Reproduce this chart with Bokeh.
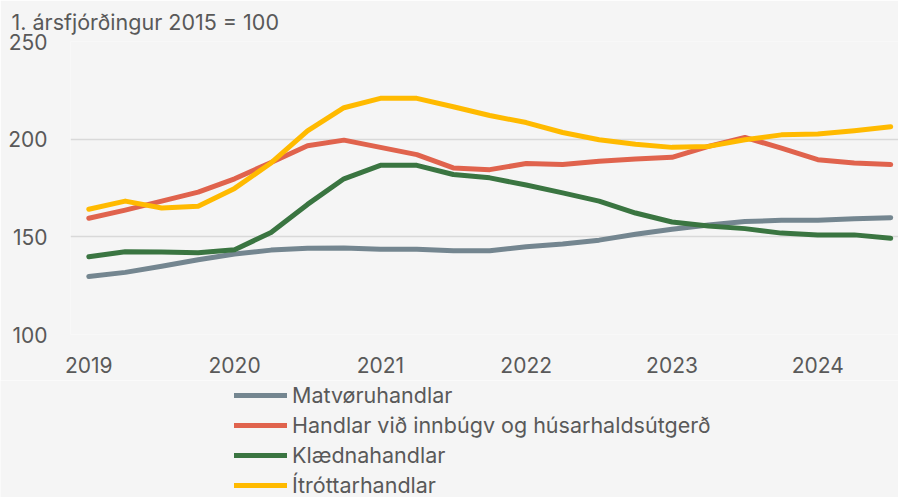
from bokeh.plotting import figure
from bokeh.models import FixedTicker, Legend, LegendItem, Range1d
from bokeh.layouts import column
from bokeh.embed import file_html
from bokeh.resources import INLINE

# Quarterly index, 1. ársfjórðingur 2015 = 100 (2019 Q1 .. 2024 Q3)
quarters = list(range(23))
year_ticks = [0, 4, 8, 12, 16, 20]
year_labels = ["2019", "2020", "2021", "2022", "2023", "2024"]

matvoru = [129.7, 131.8, 134.9, 138.3, 141.2, 143.2, 144.1, 144.3, 143.7, 143.6, 142.9, 142.9,
           144.9, 146.3, 148.3, 151.3, 153.9, 156.1, 157.8, 158.5, 158.5, 159.2, 159.8]
innbugv = [159.5, 163.7, 168.3, 172.9, 179.7, 188.1, 196.6, 199.5, 195.8, 192.1, 185.3, 184.4,
           187.5, 187.0, 188.7, 189.8, 190.7, 196.3, 200.9, 195.4, 189.5, 187.8, 187.0]
klaedna = [139.8, 142.4, 142.2, 141.9, 143.4, 152.2, 166.6, 179.7, 186.6, 186.6, 181.9, 180.2,
           176.5, 172.5, 168.3, 162.2, 157.6, 155.6, 154.2, 151.9, 151.0, 151.0, 149.3]
itrottar = [164.1, 168.3, 164.8, 165.6, 174.8, 187.8, 204.3, 216.1, 220.9, 220.9, 216.6, 212.1,
            208.5, 203.4, 199.7, 197.4, 195.8, 196.3, 199.7, 202.2, 202.7, 204.3, 206.3]

series_names = ["Matvøruhandlar", "Handlar við innbúgv og húsarhaldsútgerð",
                "Klædnahandlar", "Ítróttarhandlar"]
series_values = [matvoru, innbugv, klaedna, itrottar]
series_colors = ["#748690", "#E0634D", "#3A7541", "#FFBA00"]

title_text = "1. ársfjórðingur 2015 = 100"
y_ticks = [100, 150, 200, 250]

FONT = "Inter"
TXT = "#595959"
BG = "#F5F5F5"

# ---- main chart ----
p = figure(width=898, height=380, output_backend="svg", toolbar_location=None,
           x_range=Range1d(-0.502, 22.214), y_range=Range1d(100, 250),
           min_border_left=70, min_border_right=0, min_border_top=39, min_border_bottom=46)
p.background_fill_color = BG
p.border_fill_color = BG
p.outline_line_color = None
p.frame_align = False

for vals, col in zip(series_values, series_colors):
    p.line(quarters, vals, line_color=col, line_width=5, line_cap="round", line_join="round")

p.xgrid.grid_line_color = None
p.ygrid.grid_line_color = "#D9D9D9"
p.ygrid.grid_line_width = 1.5

p.xaxis.ticker = FixedTicker(ticks=year_ticks)
p.xaxis.major_label_overrides = {t: l for t, l in zip(year_ticks, year_labels)}
p.yaxis.ticker = FixedTicker(ticks=y_ticks)
for ax in (p.xaxis, p.yaxis):
    ax.axis_line_color = None
    ax.major_tick_line_color = None
    ax.minor_tick_line_color = None
    ax.major_tick_out = 0
    ax.major_tick_in = 0
    ax.major_label_text_font = FONT
    ax.major_label_text_font_size = "21px"
    ax.major_label_text_color = TXT
p.xaxis.major_label_standoff = 22
p.yaxis.major_label_standoff = 23

p.title.text = title_text
p.title.align = "left"
p.title.offset = -59
p.title.standoff = 13
p.title.text_font = FONT
p.title.text_font_size = "21.5px"
p.title.text_font_style = "normal"
p.title.text_color = TXT

# ---- legend strip ----
lg = figure(width=898, height=117, output_backend="svg", toolbar_location=None,
            x_range=Range1d(0, 1), y_range=Range1d(0, 1),
            min_border_left=0, min_border_right=0, min_border_top=0, min_border_bottom=0)
lg.background_fill_color = BG
lg.border_fill_color = BG
lg.outline_line_color = None
lg.frame_align = False
lg.axis.visible = False
lg.grid.visible = False

items = []
for name, col in zip(series_names, series_colors):
    r = lg.line([quarters[0]], [float("nan")], line_color=col, line_width=5, line_cap="round")
    items.append(LegendItem(label=name, renderers=[r]))

legend = Legend(items=items, location=(234, -1), orientation="vertical",
                glyph_width=53, glyph_height=20, label_height=25, spacing=4,
                label_standoff=5, padding=0, margin=0,
                label_text_font=FONT, label_text_font_size="21.5px", label_text_color=TXT,
                border_line_color=None, background_fill_alpha=0)
lg.add_layout(legend, "center")

layout = column(p, lg, spacing=0)
open("out.html", "w").write(file_html(layout, INLINE))
